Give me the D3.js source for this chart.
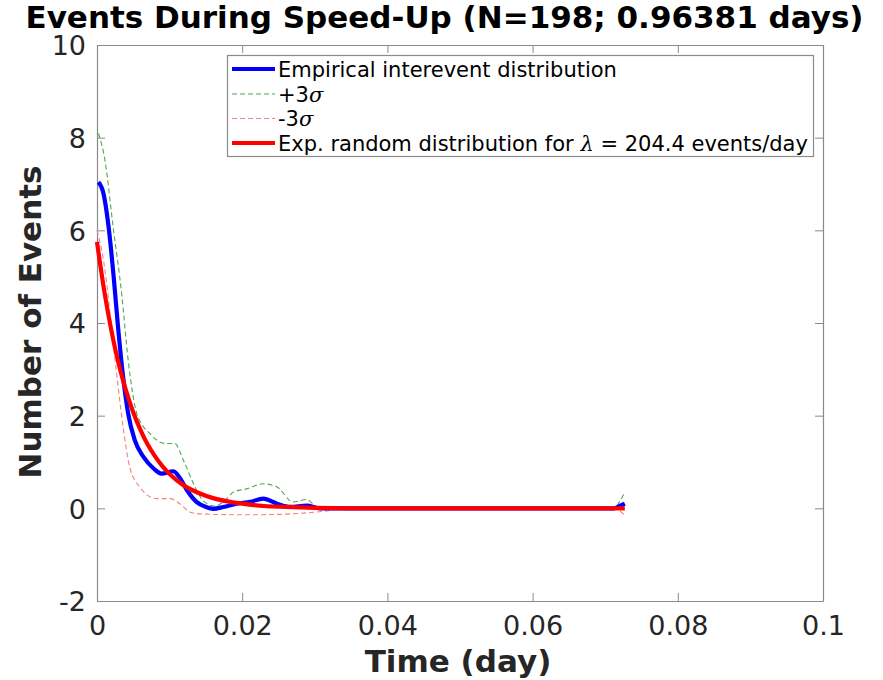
<!DOCTYPE html>
<html>
<head>
<meta charset="utf-8">
<script src="https://cdn.jsdelivr.net/npm/d3@7"></script>
<style>
  html, body { margin: 0; padding: 0; background: #fff; }
  svg { display: block; }
</style>
</head>
<body>
<svg id="chart" width="883" height="680"></svg>
<script>
// ---- Data ----
const timeEmp = [0.0002, 0.0009, 0.0016, 0.0023, 0.0029, 0.0036, 0.0043, 0.0052, 0.0064, 0.0078, 0.0089, 0.0105, 0.0114, 0.0124, 0.0137, 0.0150, 0.0160, 0.0174, 0.0192, 0.0211, 0.0229, 0.0248, 0.0266, 0.0289, 0.0307, 0.0350, 0.0450, 0.0550, 0.0650, 0.0712, 0.0720, 0.0727];
const empirical = [7.04, 6.79, 6.07, 4.99, 3.91, 2.83, 2.04, 1.47, 1.11, 0.86, 0.75, 0.80, 0.66, 0.39, 0.14, 0.03, -0.01, 0.03, 0.10, 0.14, 0.21, 0.10, 0.03, 0.06, 0.00, 0, 0, 0, 0, 0, 0.05, 0.10];

const timePlus = [0.0002, 0.0011, 0.0022, 0.0034, 0.0043, 0.0055, 0.0073, 0.0094, 0.0107, 0.0119, 0.0133, 0.0146, 0.0162, 0.0175, 0.0188, 0.0206, 0.0229, 0.0248, 0.0270, 0.0289, 0.0303, 0.0350, 0.0450, 0.0550, 0.0650, 0.0712, 0.0720, 0.0727];
const plusSigma = [8.09, 7.51, 6.10, 4.63, 3.19, 2.04, 1.61, 1.40, 1.40, 1.04, 0.53, 0.17, 0.05, 0.15, 0.35, 0.42, 0.53, 0.46, 0.14, 0.19, 0.03, 0, 0, 0, 0, 0, 0.15, 0.35];

const timeMinus = [0.0000, 0.0009, 0.0025, 0.0036, 0.0045, 0.0059, 0.0082, 0.0101, 0.0114, 0.0128, 0.0142, 0.0160, 0.0200, 0.0250, 0.0303, 0.0350, 0.0450, 0.0550, 0.0650, 0.0712, 0.0727];
const minusSigma = [6.00, 5.35, 3.19, 1.75, 0.89, 0.46, 0.21, 0.21, 0.10, -0.08, -0.12, -0.13, -0.14, -0.13, -0.08, 0, 0, 0, 0, 0, -0.15];

const timeExp = [0, 0.001, 0.002, 0.003, 0.004, 0.005, 0.006, 0.007, 0.008, 0.009, 0.010, 0.012, 0.014, 0.016, 0.018, 0.020, 0.023, 0.026, 0.030, 0.035, 0.045, 0.055, 0.065, 0.0727];
const expRandom = [5.75, 4.69, 3.82, 3.11, 2.54, 2.07, 1.69, 1.37, 1.12, 0.91, 0.74, 0.49, 0.33, 0.22, 0.15, 0.10, 0.05, 0.03, 0.01, 0, 0, 0, 0, 0];

const xTicks = [0, 0.02, 0.04, 0.06, 0.08, 0.1];
const xTickLabels = ["0", "0.02", "0.04", "0.06", "0.08", "0.1"];
const yTicks = [-2, 0, 2, 4, 6, 8, 10];
const yTickLabels = ["-2", "0", "2", "4", "6", "8", "10"];

const titleText = "Events During Speed-Up (N=198; 0.96381 days)";
const xLabel = "Time (day)";
const yLabel = "Number of Events";

// ---- Layout ----
const W = 883, H = 680;
const mLeft = 97, mRight = 823, mTop = 45, mBottom = 601;

const svg = d3.select("#chart");
svg.append("rect").attr("width", W).attr("height", H).attr("fill", "#fff");

const x = d3.scaleLinear().domain([0, 0.1]).range([mLeft, mRight]);
const y = d3.scaleLinear().domain([-2, 10]).range([mBottom, mTop]);

const font = "'DejaVu Sans', sans-serif";

// Axes
const gx = svg.append("g").attr("transform", `translate(0,${mBottom})`)
  .call(d3.axisBottom(x).tickValues(xTicks).tickFormat((d, i) => xTickLabels[i]).tickSizeInner(-8).tickSizeOuter(0).tickPadding(15));
const gxTop = svg.append("g").attr("transform", `translate(0,${mTop})`)
  .call(d3.axisTop(x).tickValues(xTicks).tickFormat("").tickSizeInner(-8).tickSizeOuter(0));
const gy = svg.append("g").attr("transform", `translate(${mLeft},0)`)
  .call(d3.axisLeft(y).tickValues(yTicks).tickFormat((d, i) => yTickLabels[i]).tickSizeInner(-8).tickSizeOuter(0).tickPadding(11));
const gyR = svg.append("g").attr("transform", `translate(${mRight},0)`)
  .call(d3.axisRight(y).tickValues(yTicks).tickFormat("").tickSizeInner(-8).tickSizeOuter(0));

[gx, gxTop, gy, gyR].forEach(g => {
  g.selectAll("path.domain").attr("stroke", "#8a8a8a").attr("stroke-width", 1.2);
  g.selectAll(".tick line").attr("stroke", "#8a8a8a").attr("stroke-width", 1);
  g.selectAll(".tick text").attr("fill", "#262626").attr("font-family", font).attr("font-size", 27);
});
gx.selectAll(".tick text").attr("dy", "0.71em");
gy.selectAll(".tick text").attr("dy", "0.36em");

// Lines
const line = d3.line().x(d => x(d[0])).y(d => y(d[1])).curve(d3.curveMonotoneX);
const zipS = (a, b) => a.map((v, i) => [v, b[i]]);

const plot = svg.append("g");
plot.append("path").datum(zipS(timePlus, plusSigma))
  .attr("d", line).attr("fill", "none").attr("stroke", "#4ea84e").attr("stroke-width", 1.1)
  .attr("stroke-dasharray", "5,3");
plot.append("path").datum(zipS(timeMinus, minusSigma))
  .attr("d", line).attr("fill", "none").attr("stroke", "#f58080").attr("stroke-width", 1.1)
  .attr("stroke-dasharray", "5,3");
plot.append("path").datum(zipS(timeEmp, empirical))
  .attr("d", line).attr("fill", "none").attr("stroke", "#0000ff").attr("stroke-width", 4.2)
  .attr("stroke-linejoin", "round");
plot.append("path").datum(zipS(timeExp, expRandom))
  .attr("d", line).attr("fill", "none").attr("stroke", "#ff0000").attr("stroke-width", 4.2)
  .attr("stroke-linejoin", "round");

// Legend
const lg = svg.append("g");
lg.append("rect").attr("x", 227.5).attr("y", 55.5).attr("width", 586).attr("height", 101)
  .attr("fill", "#fff").attr("stroke", "#8a8a8a").attr("stroke-width", 1.2);
const legendItems = [
  { color: "#0000ff", width: 4.2, dash: null, parts: [["Empirical interevent distribution", false]] },
  { color: "#4ea84e", width: 1.1, dash: "5,3", parts: [["+3", false], ["σ", true]] },
  { color: "#f58080", width: 1.1, dash: "5,3", parts: [["-3", false], ["σ", true]] },
  { color: "#ff0000", width: 4.2, dash: null, parts: [["Exp. random distribution for ", false], ["λ", true], [" = 204.4 events/day", false]] }
];
const rowY = [69, 94, 118.5, 143];
legendItems.forEach((it, i) => {
  const ly = rowY[i];
  lg.append("line").attr("x1", 232).attr("x2", 275).attr("y1", ly).attr("y2", ly)
    .attr("stroke", it.color).attr("stroke-width", it.width)
    .attr("stroke-dasharray", it.dash);
  const t = lg.append("text").attr("x", 278).attr("y", ly).attr("dy", "0.36em")
    .attr("font-family", font).attr("font-size", 21).attr("fill", "#000");
  it.parts.forEach(p => {
    t.append("tspan").text(p[0]).attr("font-style", p[1] ? "italic" : null)
      .attr("font-family", p[1] ? "'DejaVu Serif', serif" : null);
  });
});

// Title and labels
svg.append("text").attr("x", 444.5).attr("y", 28).attr("text-anchor", "middle")
  .attr("font-family", font).attr("font-weight", "bold")
  .attr("font-size", 31).attr("fill", "#000").text(titleText);
svg.append("text").attr("x", 458).attr("y", 672).attr("text-anchor", "middle")
  .attr("font-family", font).attr("font-weight", "bold")
  .attr("font-size", 31).attr("fill", "#262626").text(xLabel);
svg.append("text").attr("transform", "translate(41,322) rotate(-90)").attr("text-anchor", "middle")
  .attr("font-family", font).attr("font-weight", "bold")
  .attr("font-size", 31).attr("fill", "#262626").text(yLabel);
</script>
</body>
</html>
